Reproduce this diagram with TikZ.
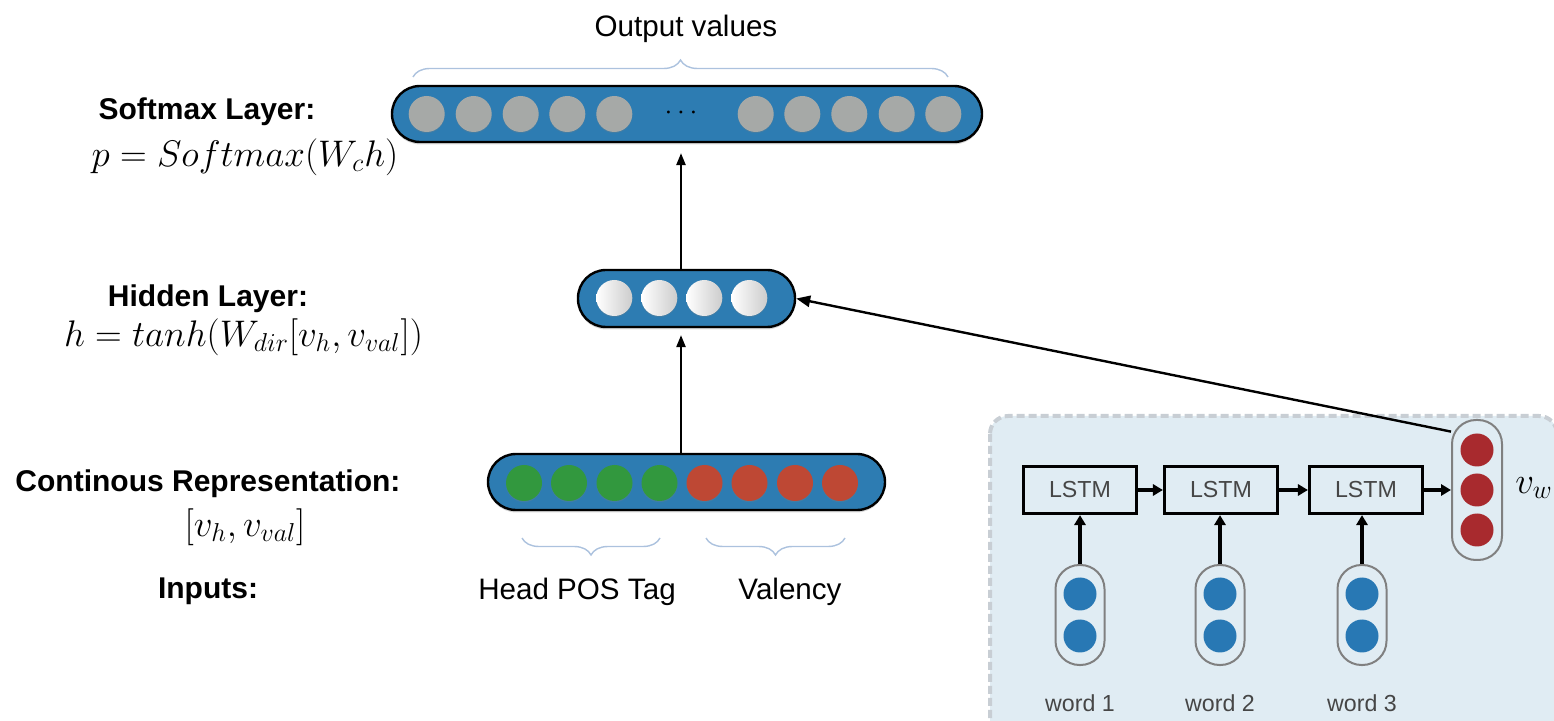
\RequirePackage{fix-cm}
\documentclass[tikz,border=0pt]{standalone}
\usepackage{fontspec}
\setsansfont{Liberation Sans}
\usetikzlibrary{arrows.meta,shadows,decorations.pathreplacing,calc}

\definecolor{pillblue}{RGB}{45,124,178}
\definecolor{unitgray}{RGB}{166,169,167}
\definecolor{unitgreen}{RGB}{50,152,62}
\definecolor{unitred}{RGB}{190,72,52}
\definecolor{vwred}{RGB}{168,42,46}
\definecolor{wordblue}{RGB}{40,120,180}
\definecolor{panelbg}{RGB}{224,236,243}
\definecolor{panelrim}{RGB}{200,206,212}
\definecolor{bracecol}{RGB}{172,194,222}
\definecolor{wordtext}{RGB}{70,70,70}

\begin{document}
\begin{tikzpicture}[x=0.5pt,y=-0.5pt,
  pill/.style={draw=black, line width=1.2pt, fill=pillblue, rounded corners=14pt,
    drop shadow={opacity=0.3, shadow xshift=0pt, shadow yshift=-1.2pt}},
  unit/.style={circle, inner sep=0pt, minimum size=18pt,
    drop shadow={opacity=0.25, shadow xshift=0pt, shadow yshift=-0.6pt}},
  small unit/.style={circle, inner sep=0pt, minimum size=16.5pt},
  lab/.style={font=\sffamily\bfseries\fontsize{15}{18}\selectfont},
  txt/.style={font=\sffamily\fontsize{14.8}{18}\selectfont},
  eq/.style={font=\fontsize{18.5}{22}\selectfont, inner sep=0pt},
  lstmbox/.style={draw=black, line width=1.6pt, minimum width=56.5pt, minimum height=23.5pt,
    font=\sffamily\fontsize{11.6}{14}\selectfont, text=wordtext},
  wordpill/.style={draw=black!50, line width=1pt, rounded corners=12pt,
    minimum width=24.5pt, minimum height=50pt},
  wordlab/.style={font=\sffamily\fontsize{11.6}{14}\selectfont, text=wordtext},
  arr/.style={-{Triangle[length=6pt,width=4.6pt]}, line width=1pt},
  bigarr/.style={-{Triangle[length=5pt,width=5.6pt]}, line width=1.9pt},
  longarr/.style={-{Triangle[length=7pt,width=5.6pt]}, line width=1.2pt},
  bracket/.style={draw=bracecol, line width=0.7pt,
    decorate, decoration={brace, amplitude=8.5pt}}
]
\useasboundingbox (0,0) rectangle (1554,721);
\clip (0,0) rectangle (1554,721);

% ---------- LSTM encoder panel ----------
\draw[fill=panelbg, draw=panelrim, line width=2pt, dash pattern=on 4pt off 2pt,
      rounded corners=9pt] (990,416) rectangle (1557,745);

\foreach \i/\x in {1/1080,2/1221,3/1366}
  \node[lstmbox] (lstm\i) at (\x,490) {LSTM};

\foreach \i/\x in {1/1080,2/1220,3/1362}{
  \node[wordpill] (word\i) at (\x,615) {};
  \node[small unit, fill=wordblue] (w\i a) at (\x,594) {};
  \node[small unit, fill=wordblue] (w\i b) at (\x,636) {};
  \node[wordlab] (wl\i) at (\x,703) {word \i};
}

\node[wordpill, minimum width=25pt, minimum height=70pt] (vw) at (1477,490) {};
\foreach \y [count=\k] in {450,490,530}
  \node[small unit, fill=vwred] (vw\k) at (1477,\y) {};
\node[eq, anchor=west] (vwlab) at (1515,488) {$v_w$};

\draw[bigarr] (lstm1.east) -- (lstm2.west);
\draw[bigarr] (lstm2.east) -- (lstm3.west);
\draw[bigarr] (lstm3.east) -- (vw.west);
\foreach \i in {1,2,3}
  \draw[bigarr] (word\i.north) -- (word\i.north |- lstm\i.south);

% ---------- layers ----------
\node[pill, minimum width=295pt, minimum height=28pt] (softmax) at (687,114) {};
\node[pill, minimum width=108.5pt, minimum height=28.5pt] (hidden) at (686.5,298.5) {};
\node[pill, minimum width=198.5pt, minimum height=28pt] (rep) at (686.5,482) {};

\foreach \x [count=\k] in {426.7,473.7,520.7,567.3,614.3,755.7,802.3,849.3,896.7,943.3}
  \node[unit, fill=unitgray] (s\k) at (\x,114) {};
\node[inner sep=0pt, font=\fontsize{14}{16}\selectfont] (dots) at (681,113) {$\cdots$};

\foreach \x [count=\k] in {614.3,659.3,704.3,749.3}
  \node[unit, left color=white, right color=black!20] (h\k) at (\x,298) {};

\foreach \x [count=\k] in {524,569,614.5,659.5}
  \node[unit, fill=unitgreen] (g\k) at (\x,483) {};
\foreach \x [count=\k] in {704.5,749.5,795,840}
  \node[unit, fill=unitred] (r\k) at (\x,483) {};

% ---------- connections ----------
\coordinate (axis) at (681,0);
\draw[arr] (rep.north -| axis) -- ([yshift=-3.5pt]hidden.south -| axis);
\draw[arr] (hidden.north -| axis) -- ([yshift=-5pt]softmax.south -| axis);
\draw[longarr] (vw.114) -- (hidden.east);

% ---------- braces and texts ----------
\draw[bracket] (413,77) -- (948,77);
\draw[bracket] (660,538) -- (522,538);
\draw[bracket] (845,538) -- (706,538);

\node[txt] (outlab) at (686,29) {Output values};
\node[txt] (poslab) at (577,592) {Head POS Tag};
\node[txt] (vallab) at (790,592) {Valency};

\node[lab] (smlab) at (207,112) {Softmax Layer:};
\node[eq] (smeq) at (245,157) {$p = Softmax(W_c h)$};
\node[lab] (hlab) at (208,299) {Hidden Layer:};
\node[eq] (heq) at (243.5,337) {$h = tanh(W_{dir}[v_h,v_{val}])$};
\node[lab] (rlab) at (208,484) {Continous Representation:};
\node[eq] (req) at (245,527) {$[v_h,v_{val}]$};
\node[lab] (ilab) at (208,591) {Inputs:};
\end{tikzpicture}
\end{document}
